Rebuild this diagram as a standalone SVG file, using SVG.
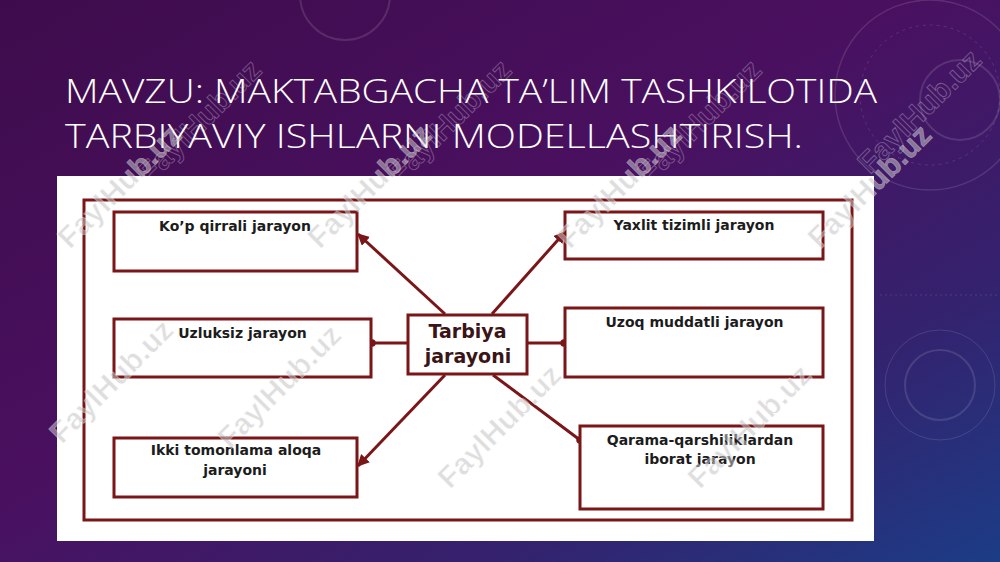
<svg xmlns="http://www.w3.org/2000/svg" width="1000" height="562" viewBox="0 0 1000 562">
<defs>
<linearGradient id="bg" x1="0" y1="0" x2="1" y2="1">
<stop offset="0" stop-color="#3e0c4c"/>
<stop offset="0.45" stop-color="#4a1060"/>
<stop offset="0.75" stop-color="#34226e"/>
<stop offset="1" stop-color="#1c3c86"/>
</linearGradient>
<marker id="arr" viewBox="0 0 10 10" refX="9" refY="5" markerWidth="4" markerHeight="4" orient="auto" markerUnits="strokeWidth">
<path d="M0,0 L10,5 L0,10 z" fill="#7a1518"/>
</marker>
<marker id="dot" viewBox="0 0 10 10" refX="5" refY="5" markerWidth="2.5" markerHeight="2.5" markerUnits="strokeWidth">
<circle cx="5" cy="5" r="5" fill="#7a1518"/>
</marker>
</defs>
<style>
.title{font-family:"Open Sans","Noto Sans",sans-serif;font-size:33px;fill:#ffffff;font-weight:300}
.box{fill:#ffffff;stroke:#7a1518;stroke-width:3}
.lbl{font-family:"DejaVu Sans","Verdana",sans-serif;font-size:14px;font-weight:bold;fill:#1c1c1c;text-anchor:middle}
.ctr{font-family:"DejaVu Sans","Verdana",sans-serif;font-size:19px;font-weight:bold;fill:#3a1416;text-anchor:middle}
.con{stroke:#7a1518;stroke-width:3;fill:none}
.wm{font-family:"Liberation Sans",Arial,sans-serif;font-size:30px;font-weight:bold;fill:#c4c4c4;stroke:#ffffff;stroke-width:0.6;opacity:0.55}
.wmo{font-family:"Liberation Sans",Arial,sans-serif;font-size:30px;font-weight:bold;fill:none;stroke:#ffffff;stroke-width:0.8;opacity:0.3}
.deco{fill:none;stroke:#ffffff;opacity:0.12}
</style>
<rect x="0" y="0" width="1000" height="562" fill="url(#bg)"/>
<g id="decorations">
<circle class="deco" cx="345" cy="-5" r="45" stroke-width="2"/>
<circle class="deco" cx="930" cy="95" r="95" stroke-width="1.5"/>
<circle class="deco" cx="930" cy="95" r="70" stroke-width="1" stroke-dasharray="3 4"/>
<circle class="deco" cx="960" cy="100" r="40" stroke-width="2"/>
<circle class="deco" cx="940" cy="385" r="35" stroke-width="2"/>
<circle class="deco" cx="940" cy="385" r="55" stroke-width="1"/>
<path class="deco" d="M880,295 L1000,295" stroke-width="1" stroke-dasharray="2 3"/>
</g>
<g id="title">
<text class="title" x="65" y="103" textLength="812" lengthAdjust="spacingAndGlyphs">MAVZU: MAKTABGACHA TA’LIM TASHKILOTIDA</text>
<text class="title" x="65" y="148" textLength="738" lengthAdjust="spacingAndGlyphs">TARBIYAVIY ISHLARNI MODELLASHTIRISH.</text>
</g>
<g id="title-watermarks">
<text class="wmo" transform="translate(150,185) rotate(-45)">FaylHub.uz</text>
<text class="wmo" transform="translate(400,185) rotate(-45)">FaylHub.uz</text>
<text class="wmo" transform="translate(650,185) rotate(-45)">FaylHub.uz</text>
<text class="wmo" transform="translate(870,175) rotate(-45)">FaylHub.uz</text>
</g>
<rect id="panel" x="57" y="176" width="817" height="365" fill="#ffffff"/>
<rect id="frame" x="84" y="200" width="768" height="320" fill="none" stroke="#7a1518" stroke-width="3"/>
<g id="connectors">
<line class="con" x1="445" y1="314" x2="358" y2="234" marker-end="url(#arr)"/>
<line class="con" x1="408" y1="343" x2="372" y2="343" marker-end="url(#dot)"/>
<line class="con" x1="445" y1="375" x2="358" y2="466" marker-end="url(#arr)"/>
<line class="con" x1="492" y1="314" x2="565" y2="232" marker-end="url(#arr)"/>
<line class="con" x1="527" y1="343" x2="564" y2="343" marker-end="url(#dot)"/>
<line class="con" x1="493" y1="375" x2="580" y2="440" marker-end="url(#dot)"/>
</g>
<g id="node-center">
<rect class="box" x="408" y="315" width="119" height="59" stroke-width="2.5"/>
<text class="ctr" x="467.5" y="338">Tarbiya</text>
<text class="ctr" x="468" y="363">jarayoni</text>
</g>
<g id="node-kop">
<rect class="box" x="114" y="212" width="243" height="59"/>
<text class="lbl" x="235" y="231">Ko’p qirrali jarayon</text>
</g>
<g id="node-uzluksiz">
<rect class="box" x="114" y="319" width="257" height="58"/>
<text class="lbl" x="242.5" y="338">Uzluksiz jarayon</text>
</g>
<g id="node-ikki">
<rect class="box" x="114" y="438" width="243" height="59"/>
<text class="lbl" x="236" y="455">Ikki tomonlama aloqa</text>
<text class="lbl" x="235" y="475">jarayoni</text>
</g>
<g id="node-yaxlit">
<rect class="box" x="565" y="212" width="258" height="47"/>
<text class="lbl" x="694" y="230">Yaxlit tizimli jarayon</text>
</g>
<g id="node-uzoq">
<rect class="box" x="565" y="308" width="258" height="69"/>
<text class="lbl" x="694.5" y="327">Uzoq muddatli jarayon</text>
</g>
<g id="node-qarama">
<rect class="box" x="580" y="426" width="243" height="83"/>
<text class="lbl" x="700" y="445">Qarama-qarshiliklardan</text>
<text class="lbl" x="700" y="464">iborat jarayon</text>
</g>
<g id="watermarks">
<text class="wm" transform="translate(70,250) rotate(-45)">FaylHub.uz</text>
<text class="wm" transform="translate(320,250) rotate(-45)">FaylHub.uz</text>
<text class="wm" transform="translate(570,250) rotate(-45)">FaylHub.uz</text>
<text class="wm" transform="translate(820,250) rotate(-45)">FaylHub.uz</text>
<text class="wm" transform="translate(62,445) rotate(-45)">FaylHub.uz</text>
<text class="wm" transform="translate(230,450) rotate(-45)">FaylHub.uz</text>
<text class="wm" transform="translate(450,490) rotate(-45)">FaylHub.uz</text>
<text class="wm" transform="translate(700,490) rotate(-45)">FaylHub.uz</text>
</g>
</svg>
